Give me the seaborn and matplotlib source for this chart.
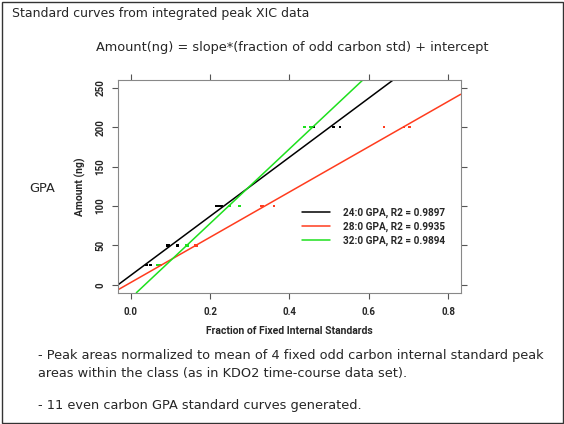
import matplotlib
matplotlib.use("Agg")
import matplotlib.pyplot as plt
import seaborn as sns
import pandas as pd
from matplotlib.patches import Rectangle
from matplotlib.font_manager import FontProperties

# ---- data ----
amount_levels = [25, 25, 25, 50, 50, 50, 100, 100, 100, 200, 200, 200]
gpa24_x = [0.038, 0.041, 0.050, 0.092, 0.097, 0.118, 0.216, 0.222, 0.229, 0.461, 0.511, 0.527]
gpa28_x = [0.071, 0.074, 0.076, 0.162, 0.164, 0.166, 0.330, 0.333, 0.362, 0.638, 0.689, 0.703]
gpa32_x = [0.068, 0.071, 0.074, 0.141, 0.143, 0.145, 0.248, 0.250, 0.274, 0.438, 0.452, 0.455]
series_names = ["24:0 GPA", "28:0 GPA", "32:0 GPA"]
r2_values = ["0.9897", "0.9935", "0.9894"]
slopes = [374.8, 287.2, 473.0]
intercepts = [12.0, 2.9, -16.8]
colors = ["#000000", "#ff3c1e", "#1ee01e"]
x_ticks = [0.0, 0.2, 0.4, 0.6, 0.8]
y_ticks = [0, 50, 100, 150, 200, 250]

df = pd.DataFrame({
    "x": gpa24_x + gpa28_x + gpa32_x,
    "y": amount_levels * 3,
    "series": [series_names[0]] * len(gpa24_x) + [series_names[1]] * len(gpa28_x) + [series_names[2]] * len(gpa32_x),
})

sns.set_style("white")
plt.rcParams["font.family"] = ["DejaVu Sans"]

def pf(size):
    return FontProperties(family="Roboto", weight="bold", size=size)

fig = plt.figure(figsize=(5.64, 4.24), dpi=100)
ax = fig.add_axes([118 / 564, 1 - 292.7 / 424, (460.7 - 118) / 564, (292.7 - 80) / 424])

sns.scatterplot(data=df, x="x", y="y", hue="series", palette=dict(zip(series_names, colors)),
                marker="s", s=3, linewidth=0, legend=False, ax=ax)

handles = []
for name, r2, m, b, c in zip(series_names, r2_values, slopes, intercepts, colors):
    h = ax.axline((0, b), slope=m, color=c, lw=1.1, label=f"{name}, R2 = {r2}")
    handles.append(h)

ax.set_xlim(-0.032, 0.832)
ax.set_ylim(-10, 260)
ax.set_xticks(x_ticks)
ax.set_yticks(y_ticks)
ax.set_xticklabels([f"{v:.1f}" for v in x_ticks], fontproperties=pf(7))
ax.set_yticklabels([str(v) for v in y_ticks], fontproperties=pf(7), rotation=90, va="center")
ax.tick_params(axis="both", which="both", direction="out", length=4, width=0.8, color="#555555",
               top=True, right=True, bottom=True, left=True, labeltop=False, labelright=False)
ax.tick_params(axis="x", pad=6)
ax.tick_params(axis="y", pad=5)
for sp in ax.spines.values():
    sp.set_color("#888888")
    sp.set_linewidth(0.8)
ax.set_xlabel("Fraction of Fixed Internal Standards", fontproperties=pf(7.5), labelpad=7)
ax.set_ylabel("Amount (ng)", fontproperties=pf(7.5), labelpad=7)

leg = ax.legend(handles=handles, loc="upper left", bbox_to_anchor=(0.537, 0.40), frameon=False,
                prop=pf(7.2), handlelength=2.8, handletextpad=1.3, labelspacing=0.38,
                borderpad=0, borderaxespad=0)

# slide text
fig.add_artist(Rectangle((1.5 / 564, 1.5 / 424), 561 / 564, 421 / 424, transform=fig.transFigure,
                         fill=False, edgecolor="#333333", lw=1.0))
fig.text(12 / 564, 1 - 14 / 424, "Standard curves from integrated peak XIC data", fontsize=9,
         va="center", ha="left")
fig.text(292 / 564, 1 - 48 / 424, "Amount(ng) = slope*(fraction of odd carbon std) + intercept",
         fontsize=9.3, va="center", ha="center")
fig.text(42 / 564, 1 - 188 / 424, "GPA", fontsize=9.3, va="center", ha="center")
fig.text(38 / 564, 1 - 356 / 424,
         "- Peak areas normalized to mean of 4 fixed odd carbon internal standard peak",
         fontsize=9.3, va="center", ha="left")
fig.text(38 / 564, 1 - 374 / 424, "areas within the class (as in KDO2 time-course data set).",
         fontsize=9.3, va="center", ha="left")
fig.text(38 / 564, 1 - 406 / 424, "- 11 even carbon GPA standard curves generated.",
         fontsize=9.3, va="center", ha="left")

fig.savefig("out.png", dpi=100)
